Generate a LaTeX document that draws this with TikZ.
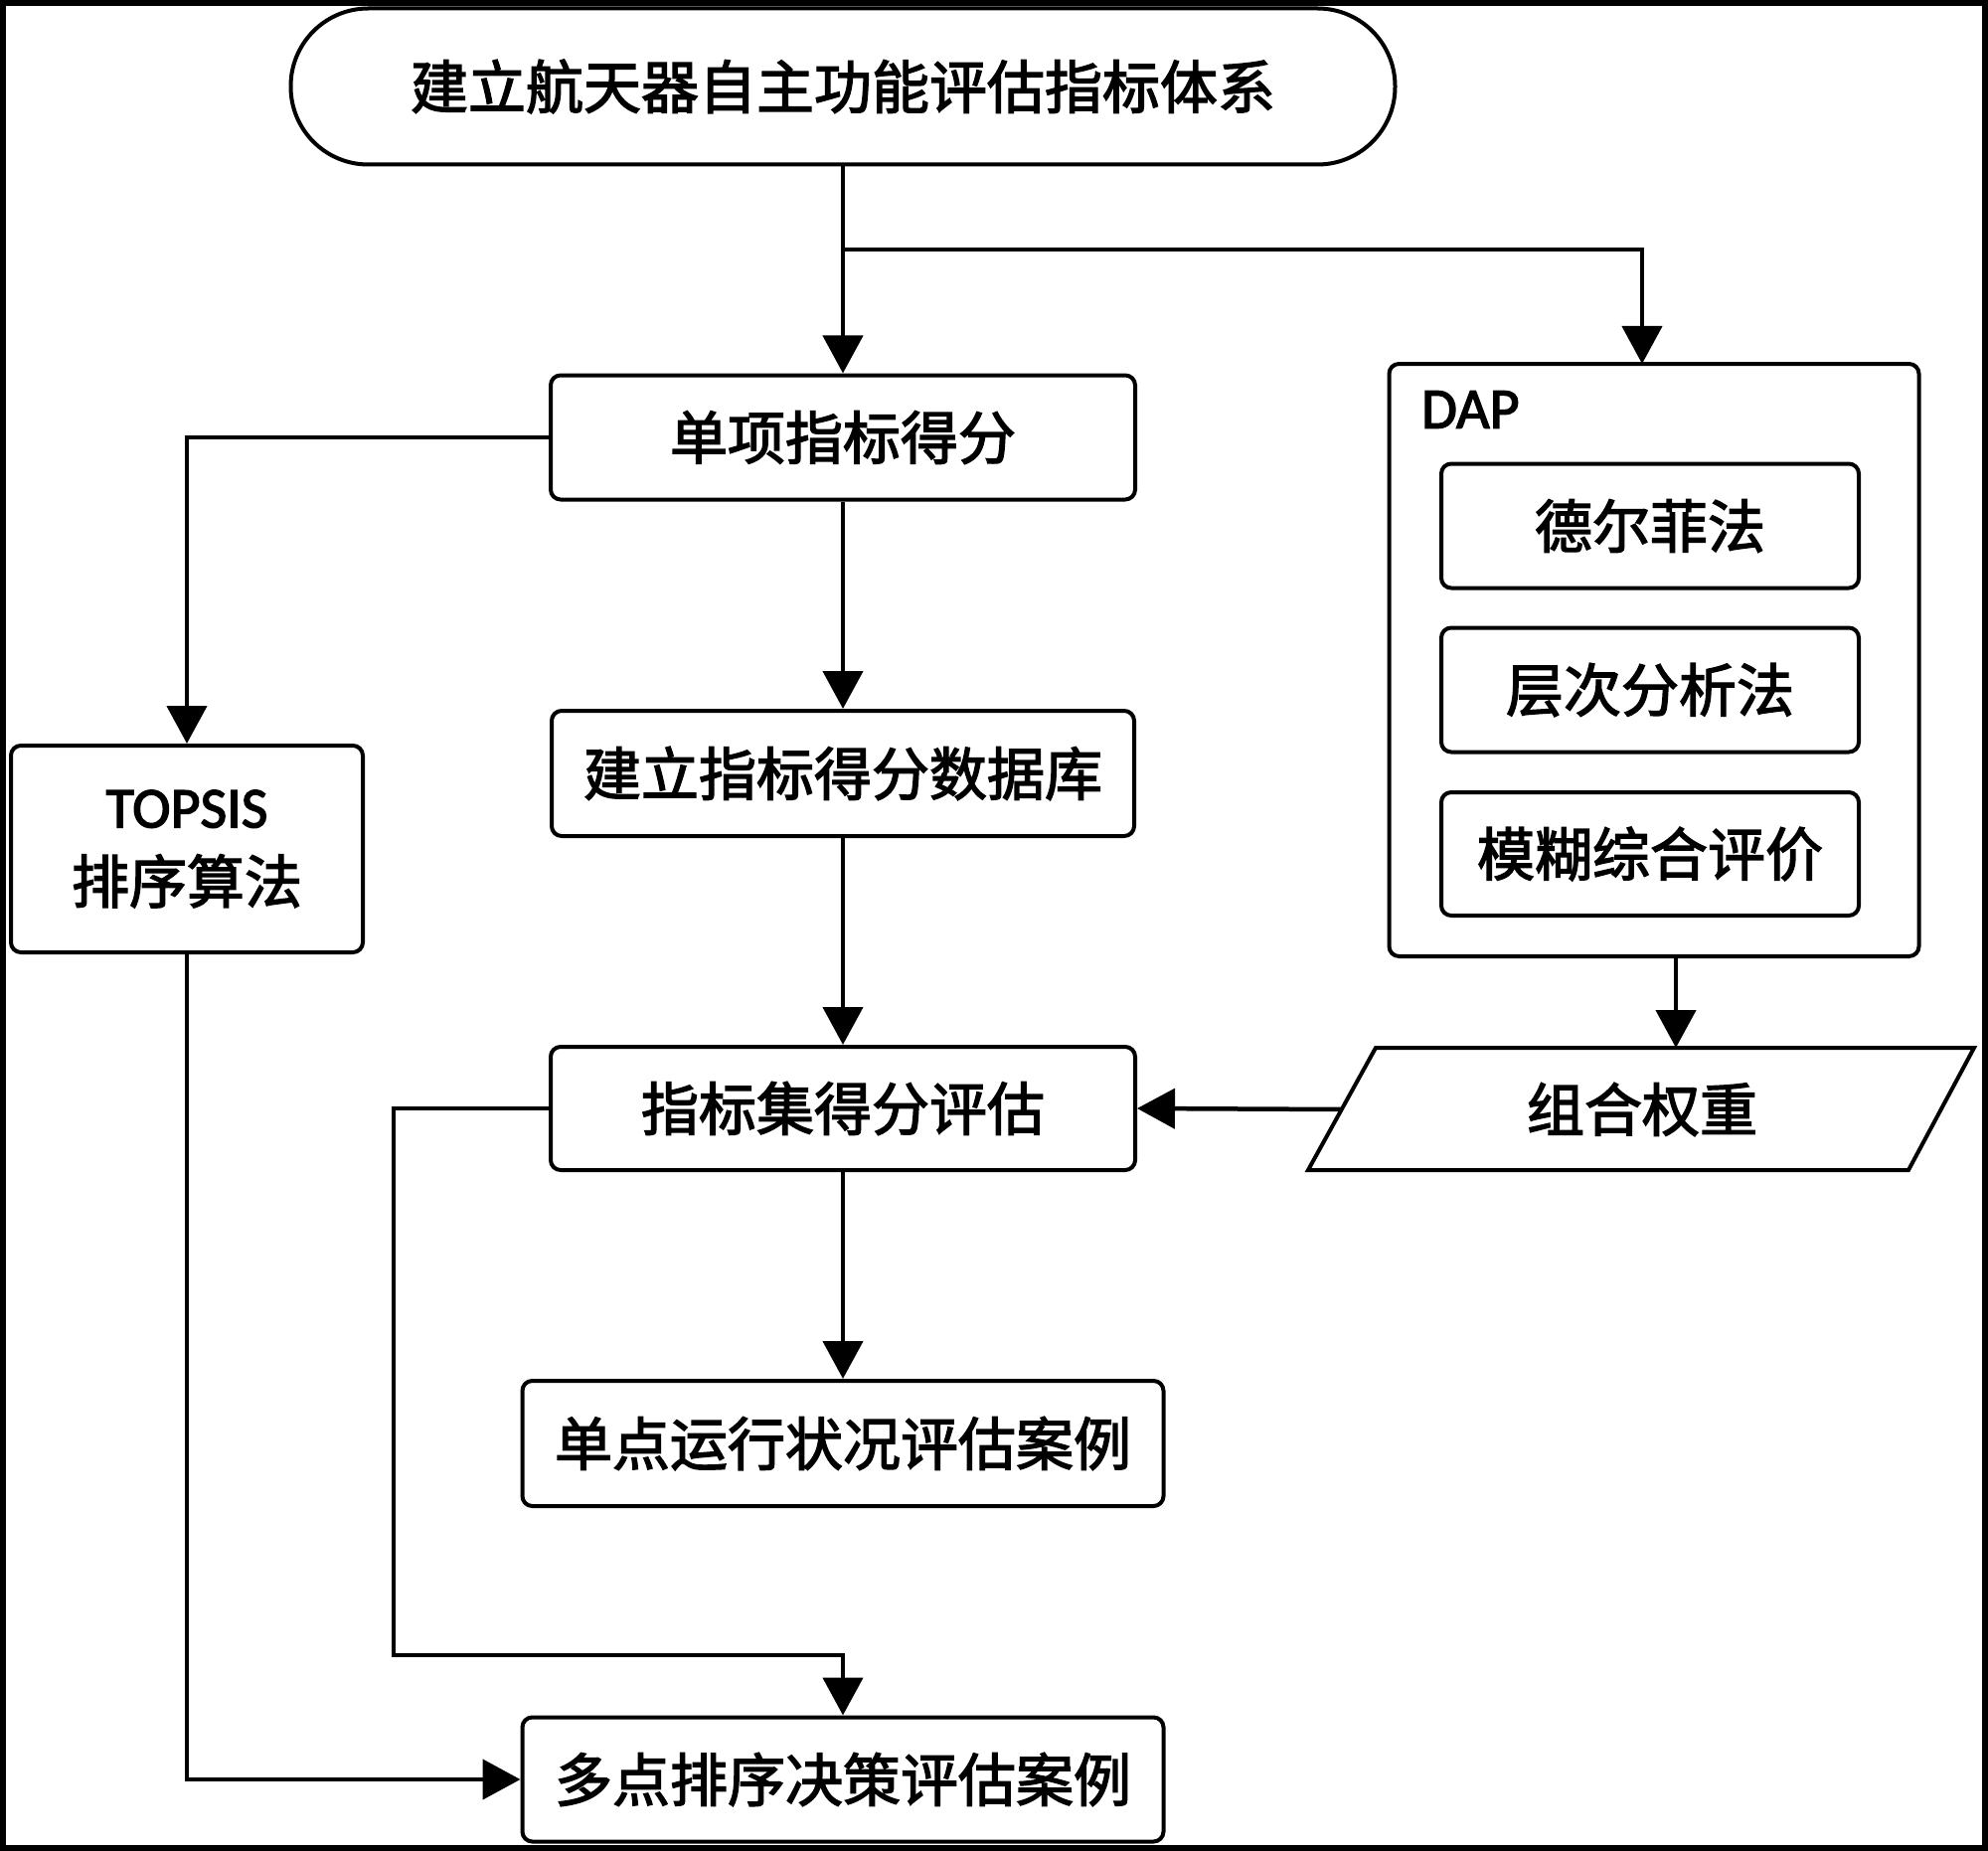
\documentclass[tikz,border=0pt]{standalone}
\usepackage{fontspec}
\setmainfont{Carlito}
\newfontfamily\cjk{Noto Sans CJK SC}
\usetikzlibrary{arrows.meta}
\newcommand\hvon{\special{pdf:literal direct 2 Tr 1.4 w}}
\newcommand\hvoff{\special{pdf:literal direct 0 Tr}}
\begin{document}
\begin{tikzpicture}[x=1pt,y=-1pt,
  heavy/.style={execute at begin node=\hvon, execute at end node=\hvoff},
  box/.style={draw, line width=4pt, rounded corners=10pt, inner sep=0pt, align=center, heavy,
    font=\cjk\fontsize{58}{76}\selectfont},
  arr/.style={line width=4.5pt, -{Triangle[length=38pt,width=40pt]}}]
\useasboundingbox (0,0) rectangle (2000,1862);
\fill[white] (0,0) rectangle (2000,1862);
\draw[line width=6pt] (3,3) rectangle (1997,1859);

\node[box, rounded corners=78pt, minimum width=1111pt, minimum height=157pt] (top) at (848,87) {建立航天器自主功能评估指标体系};
\node[box, minimum width=588pt, minimum height=125pt] (s1) at (848,440) {单项指标得分};
\node[box, minimum width=586pt, minimum height=126pt] (s2) at (848,778) {建立指标得分数据库};
\node[box, minimum width=588pt, minimum height=124pt] (s3) at (848,1115) {指标集得分评估};
\node[box, minimum width=645pt, minimum height=126pt] (s4) at (848,1452) {单点运行状况评估案例};
\node[box, minimum width=645pt, minimum height=125pt] (s5) at (848,1790) {多点排序决策评估案例};
\node[box, minimum width=354pt, minimum height=208pt] (topsis) at (188,854) {{\rmfamily\fontsize{58}{76}\selectfont TOPSIS}\\排序算法};

\node[box, minimum width=533pt, minimum height=596pt] (dap) at (1664,664) {};
\node[anchor=west, inner sep=0pt, heavy, font=\fontsize{58}{70}\selectfont] (daplab) at (1430,412) {DAP};
\node[box, minimum width=420pt, minimum height=125pt] (d1) at (1660,529) {德尔菲法};
\node[box, minimum width=420pt, minimum height=125pt] (d2) at (1660,694) {层次分析法};
\node[box, minimum width=420pt, minimum height=124pt] (d3) at (1660,859) {模糊综合评价};

% parallelogram 组合权重
\draw[line width=4pt, line join=miter] (1384,1054) -- (1986,1054) -- (1920,1177) -- (1316,1177) -- cycle;
\node[inner sep=0pt, heavy, font=\cjk\fontsize{58}{76}\selectfont] (zh) at (1652,1116) {组合权重};
\coordinate (zhL) at (1350,1116);
\coordinate (zhT) at (1686,1054);
\coordinate (br) at (848,251);
\coordinate (dapin) at (1652,366);
\coordinate (c1) at (396,1665);

\draw[arr] (top.south) -- (s1.north);
\draw[arr] (br) -| (dapin);
\draw[arr] (s1.west) -| (topsis.north);
\draw[arr] (s1.south) -- (s2.north);
\draw[arr] (s2.south) -- (s3.north);
\draw[arr] (s3.south) -- (s4.north);
\draw[arr] (dap.south -| zhT) -- (zhT);
\draw[arr] (zhL) -- (s3.east);
\draw[arr] (s3.west) -| (c1) -| (s5.north);
\draw[arr] (topsis.south) |- (s5.west);
\end{tikzpicture}
\end{document}
